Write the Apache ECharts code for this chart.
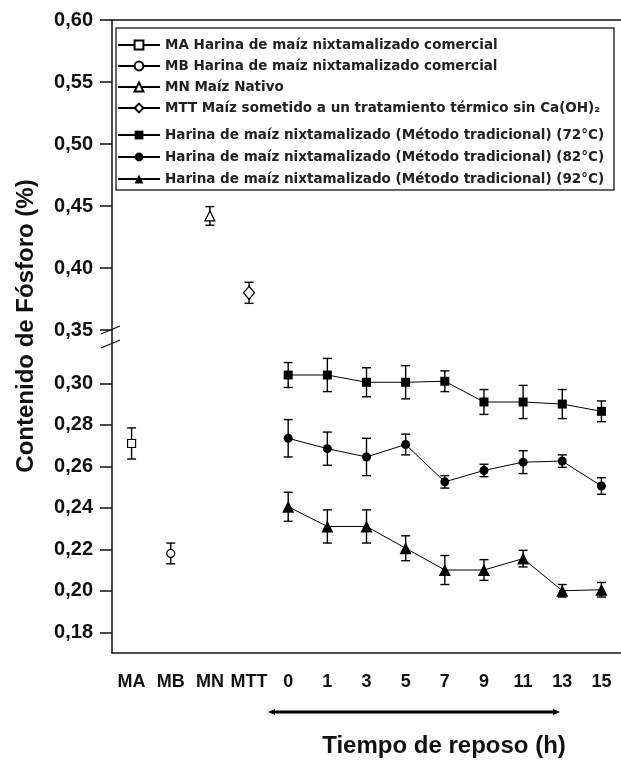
<!DOCTYPE html>
<html>
<head>
<meta charset="utf-8">
<script src="https://cdn.jsdelivr.net/npm/echarts@6/dist/echarts.min.js"></script>
<style>
  html, body { margin: 0; padding: 0; background: #fff; }
  #chart { width: 621px; height: 762px; }
</style>
</head>
<body>
<div id="chart"></div>
<script>
// Categories along the x axis: reference samples, then resting time (h)
const categories = ['MA', 'MB', 'MN', 'MTT', '0', '1', '3', '5', '7', '9', '11', '13', '15'];
const hours = ['0', '1', '3', '5', '7', '9', '11', '13', '15'];

// Reference samples: phosphorus content (%) and standard deviation
const sampleCodes = ['MA', 'MB', 'MN', 'MTT'];
const sampleValues = [0.271, 0.218, 0.442, 0.380];
const sampleErrors = [0.0075, 0.005, 0.0075, 0.0085];

// Traditional nixtamalized flour at three temperatures
const t72 = [0.304, 0.304, 0.3005, 0.3005, 0.301, 0.291, 0.291, 0.290, 0.2865];
const t72Err = [0.006, 0.008, 0.007, 0.008, 0.005, 0.006, 0.008, 0.007, 0.005];
const t82 = [0.2735, 0.2685, 0.2645, 0.2705, 0.2525, 0.258, 0.262, 0.2625, 0.2505];
const t82Err = [0.009, 0.008, 0.009, 0.005, 0.003, 0.003, 0.0055, 0.003, 0.004];
const t92 = [0.2405, 0.231, 0.231, 0.2205, 0.210, 0.210, 0.2155, 0.200, 0.2005];
const t92Err = [0.007, 0.008, 0.008, 0.006, 0.007, 0.005, 0.004, 0.003, 0.0035];

// Tick labels of the lower (broken) y segment
const lowerTicks = [0.18, 0.20, 0.22, 0.24, 0.26, 0.28, 0.30];

const seriesNames = [
  'MA Harina de maíz nixtamalizado comercial',
  'MB Harina de maíz nixtamalizado comercial',
  'MN Maíz Nativo',
  'MTT Maíz sometido a un tratamiento térmico sin Ca(OH)\u2082',
  'Harina de maíz nixtamalizado (Método tradicional) (72°C)',
  'Harina de maíz nixtamalizado (Método tradicional) (82°C)',
  'Harina de maíz nixtamalizado (Método tradicional) (92°C)'
];

const INK = '#111';
const tickFont = { fontFamily: 'Liberation Sans', fontWeight: 'bold', color: INK };
const fmt = v => v.toFixed(2).replace('.', ',');

// Error bar renderer: vertical whisker with caps
function renderErr(params, api) {
  const x = api.value(0), y = api.value(1), e = api.value(2);
  const top = api.coord([x, y + e]);
  const bot = api.coord([x, y - e]);
  const hw = 4.5;
  const st = { stroke: '#000', lineWidth: 1.4 };
  return {
    type: 'group',
    children: [
      { type: 'line', shape: { x1: top[0], y1: top[1], x2: bot[0], y2: bot[1] }, style: st },
      { type: 'line', shape: { x1: top[0] - hw, y1: top[1], x2: top[0] + hw, y2: top[1] }, style: st },
      { type: 'line', shape: { x1: bot[0] - hw, y1: bot[1], x2: bot[0] + hw, y2: bot[1] }, style: st }
    ]
  };
}

// Which grid each reference sample belongs to (upper segment for MN, MTT)
const sampleGrid = [0, 0, 1, 1];
const sampleSymbols = [
  { symbol: 'rect', symbolSize: 8 },
  { symbol: 'circle', symbolSize: 8 },
  { symbol: 'triangle', symbolSize: 10 },
  { symbol: 'diamond', symbolSize: [11, 13] }
];

const series = [];

// Error bars first so that markers sit on top
const lowerErr = [];
const upperErr = [];
sampleCodes.forEach((c, i) => {
  (sampleGrid[i] === 0 ? lowerErr : upperErr).push([c, sampleValues[i], sampleErrors[i]]);
});
[[t72, t72Err], [t82, t82Err], [t92, t92Err]].forEach(([vals, errs]) => {
  hours.forEach((h, i) => lowerErr.push([h, vals[i], errs[i]]));
});
series.push({
  type: 'custom', xAxisIndex: 0, yAxisIndex: 0, renderItem: renderErr,
  encode: { x: 0, y: 1 }, data: lowerErr, z: 1, silent: true
});
series.push({
  type: 'custom', xAxisIndex: 1, yAxisIndex: 1, renderItem: renderErr,
  encode: { x: 0, y: 1 }, data: upperErr, z: 1, silent: true
});

// Open-symbol reference samples
sampleCodes.forEach((c, i) => {
  series.push({
    name: seriesNames[i],
    type: 'line',
    xAxisIndex: sampleGrid[i],
    yAxisIndex: sampleGrid[i],
    data: [[c, sampleValues[i]]],
    symbol: sampleSymbols[i].symbol,
    symbolSize: sampleSymbols[i].symbolSize,
    showSymbol: true,
    lineStyle: { color: '#000', width: 1 },
    itemStyle: { color: '#fff', borderColor: '#000', borderWidth: 1.2 },
    z: 3
  });
});

// Filled-symbol time series
[[t72, 'rect', 9], [t82, 'circle', 9], [t92, 'triangle', 12]].forEach(([vals, sym, size], k) => {
  series.push({
    name: seriesNames[4 + k],
    type: 'line',
    xAxisIndex: 0,
    yAxisIndex: 0,
    data: hours.map((h, i) => [h, vals[i]]),
    symbol: sym,
    symbolSize: size,
    showSymbol: true,
    lineStyle: { color: '#000', width: 1 },
    itemStyle: { color: '#000', borderColor: '#000', borderWidth: 0 },
    z: 3
  });
});

const legendText = {
  fontFamily: 'DejaVu Sans', fontWeight: 'bold', fontSize: 13.5, color: '#222'
};

const option = {
  animation: false,
  backgroundColor: '#fff',
  grid: [
    { left: 112, width: 512, top: 330, height: 323 },   // lower segment 0,17 – 0,32
    { left: 112, width: 512, top: 20, height: 310 }     // upper segment 0,35 – 0,60
  ],
  xAxis: [
    {
      type: 'category', gridIndex: 0, data: categories, boundaryGap: true,
      axisLine: { lineStyle: { color: INK, width: 1.5 } },
      axisTick: { alignWithLabel: true, length: 10, lineStyle: { color: INK, width: 1.5 } },
      axisLabel: Object.assign({ fontSize: 18, margin: 20, interval: 0, hideOverlap: false }, tickFont),
      splitLine: { show: false }
    },
    {
      type: 'category', gridIndex: 1, data: categories, boundaryGap: true, position: 'top',
      axisLine: { lineStyle: { color: INK, width: 1.5 } },
      axisTick: { show: false },
      axisLabel: { show: false },
      splitLine: { show: false }
    }
  ],
  yAxis: [
    {
      type: 'value', gridIndex: 0, min: 0.17, max: 0.3257,
      axisLine: { show: true, lineStyle: { color: INK, width: 1.5 } },
      axisTick: { show: true, length: 12, customValues: lowerTicks, lineStyle: { color: INK, width: 1.5 } },
      axisLabel: Object.assign({ fontSize: 20, margin: 19, customValues: lowerTicks, formatter: fmt }, tickFont),
      splitLine: { show: false }
    },
    {
      type: 'value', gridIndex: 1, min: 0.35, max: 0.60, interval: 0.05,
      axisLine: { show: true, lineStyle: { color: INK, width: 1.5 } },
      axisTick: { show: true, length: 12, lineStyle: { color: INK, width: 1.5 } },
      axisLabel: Object.assign({ fontSize: 20, margin: 19, formatter: fmt }, tickFont),
      splitLine: { show: false }
    }
  ],
  legend: [
    {
      data: seriesNames.slice(0, 4), orient: 'vertical', left: 117, top: 38,
      itemWidth: 42, itemHeight: 11, itemGap: 7, padding: 0,
      textStyle: legendText, selectedMode: false
    },
    {
      data: seriesNames.slice(4), orient: 'vertical', left: 117, top: 128,
      itemWidth: 42, itemHeight: 11, itemGap: 8, padding: 0,
      textStyle: legendText, selectedMode: false
    }
  ],
  graphic: [
    // legend frame
    { type: 'rect', shape: { x: 116, y: 28, width: 498, height: 162 }, style: { fill: 'none', stroke: '#333', lineWidth: 1.5 }, z: 0 },
    // axis break marks
    { type: 'line', shape: { x1: 101, y1: 334, x2: 120, y2: 326 }, style: { stroke: INK, lineWidth: 1.3 } },
    { type: 'line', shape: { x1: 101, y1: 348, x2: 120, y2: 340 }, style: { stroke: INK, lineWidth: 1.3 } },
    // y axis title
    {
      type: 'text', x: 26, y: 326, rotation: Math.PI / 2,
      style: { text: 'Contenido de Fósforo (%)', fontFamily: 'Liberation Sans', fontWeight: 'bold', fontSize: 24, fill: INK, align: 'center', verticalAlign: 'middle' }
    },
    // resting-time span arrow
    { type: 'line', shape: { x1: 272, y1: 712, x2: 556, y2: 712 }, style: { stroke: '#000', lineWidth: 3 } },
    { type: 'polygon', shape: { points: [[268, 712], [275, 709], [275, 715]] }, style: { fill: '#000' } },
    { type: 'polygon', shape: { points: [[560, 712], [553, 709], [553, 715]] }, style: { fill: '#000' } },
    // x axis title
    {
      type: 'text', x: 444, y: 746,
      style: { text: 'Tiempo de reposo (h)', fontFamily: 'Liberation Sans', fontWeight: 'bold', fontSize: 24, fill: INK, align: 'center', verticalAlign: 'middle' }
    }
  ],
  series: series
};

const chart = echarts.init(document.getElementById('chart'), null, { renderer: 'canvas' });
chart.setOption(option);
</script>
</body>
</html>
